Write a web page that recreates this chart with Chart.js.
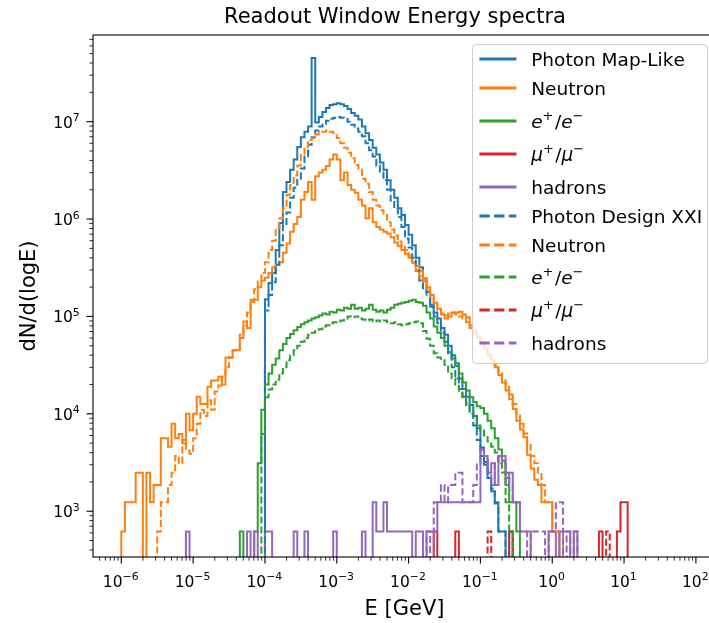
<!DOCTYPE html>
<html>
<head>
<meta charset="utf-8">
<script src="https://cdn.jsdelivr.net/npm/chart.js@4.4.1/dist/chart.umd.min.js"></script>
<style>
  html, body { margin: 0; padding: 0; background: #fff; overflow: hidden; }
  #wrapper { width: 725px; height: 623px; }
</style>
</head>
<body>
<div id="wrapper"><canvas id="myChart" width="725" height="623"></canvas></div>
<script>
// histogram binning: 20 log bins per decade starting at 1e-6 GeV
const binStartExp = -6;
const binsPerDecade = 20;

// axis ranges (log10) and tick decades
const xRangeExp = [-6.394, 2.28];
const yRangeExp = [2.53, 7.89];
const xTickExps = [-6, -5, -4, -3, -2, -1, 0, 1, 2];
const yTickExps = [3, 4, 5, 6, 7];
const minorMultiples = [2, 3, 4, 5, 6, 7, 8, 9];

const titleText = "Readout Window Energy spectra";
const xLabelText = "E [GeV]";
const yLabelText = "dN/d(logE)";

// ---- Map-Like sample ----
const photonMapStart = 40;
const photonMap = [
  1.5e5, 2.2e5, 2.8e5, 4.8e5, 9.1e5,
  1.9e6, 2.4e6, 3.2e6, 4.1e6, 5.5e6,
  6.9e6, 7.9e6, 8.9e6, 4.5e7, 9.8e6,
  1.12e7, 1.26e7, 1.38e7, 1.48e7, 1.51e7,
  1.55e7, 1.51e7, 1.45e7, 1.35e7, 1.23e7,
  1.15e7, 1.05e7, 8.9e6, 7.6e6, 6.5e6,
  5.4e6, 4.6e6, 3.8e6, 3.2e6, 2.5e6,
  2.0e6, 1.66e6, 1.29e6, 1.1e6, 8.7e5,
  6.9e5, 5.4e5, 4.0e5, 3.2e5, 2.45e5,
  1.78e5, 1.32e5, 1.1e5, 9.5e4, 7.6e4,
  6.5e4, 5.0e4, 4.0e4, 3.3e4, 2.3e4,
  1.8e4, 1.5e4, 1.23e4, 9.5e3, 7.1e3,
  4.5e3, 3.2e3, 2.2e3, 1.6e3, 1240,
  620, 620, 0, 620
];

const neutronMapStart = 0;
const neutronMap = [
  620, 1240, 1240, 1240, 2480,
  2480, 0, 2480, 1240, 1860,
  1860, 5600, 5600, 4600, 7900,
  5600, 6200, 5000, 1.0e4, 6800,
  1.0e4, 1.5e4, 1.26e4, 1.26e4, 1.9e4,
  2.2e4, 2.2e4, 2.4e4, 2.0e4, 3.8e4,
  3.8e4, 4.5e4, 4.5e4, 6.0e4, 8.9e4,
  7.6e4, 1.48e5, 1.48e5, 2.0e5, 2.34e5,
  2.5e5, 2.8e5, 3.2e5, 3.4e5, 3.6e5,
  4.5e5, 5.6e5, 7.4e5, 8.9e5, 1.05e6,
  1.58e6, 1.9e6, 2.4e6, 1.58e6, 2.75e6,
  3.0e6, 3.2e6, 3.5e6, 4.1e6, 4.6e6,
  4.1e6, 2.5e6, 3.0e6, 2.24e6, 2.0e6,
  1.86e6, 1.58e6, 1.38e6, 1.02e6, 1.29e6,
  9.3e5, 8.3e5, 7.8e5, 7.4e5, 7.1e5,
  6.5e5, 5.75e5, 5.25e5, 4.8e5, 4.4e5,
  4.0e5, 3.6e5, 3.3e5, 2.95e5, 2.45e5,
  2.0e5, 1.66e5, 1.38e5, 1.2e5, 1.05e5,
  9.5e4, 1.0e5, 1.1e5, 1.1e5, 1.12e5,
  1.05e5, 9.8e4, 8.1e4, 7.2e4, 6.2e4,
  5.5e4, 4.7e4, 4.0e4, 3.5e4, 3.0e4,
  2.5e4, 2.1e4, 1.74e4, 1.41e4, 1.12e4,
  8.5e3, 6.9e3, 5.75e3, 3.8e3, 2.75e3,
  2.1e3, 1860, 1240, 1240, 1240,
  620, 620
];

const electronMapStart = 33;
const electronMap = [
  620, 0, 0, 0, 620,
  3100, 1.1e4, 2.0e4, 2.6e4, 3.2e4,
  3.7e4, 4.5e4, 5.2e4, 6.0e4, 6.6e4,
  7.2e4, 7.8e4, 8.3e4, 8.7e4, 9.1e4,
  9.5e4, 9.8e4, 1.02e5, 1.07e5, 1.05e5,
  1.12e5, 1.1e5, 1.17e5, 1.15e5, 1.23e5,
  1.2e5, 1.32e5, 1.2e5, 1.23e5, 1.15e5,
  1.2e5, 1.32e5, 1.17e5, 1.12e5, 1.15e5,
  1.1e5, 1.17e5, 1.23e5, 1.32e5, 1.35e5,
  1.38e5, 1.41e5, 1.45e5, 1.48e5, 1.41e5,
  1.38e5, 1.29e5, 1.1e5, 9.5e4, 7.9e4,
  6.8e4, 6.0e4, 5.0e4, 4.3e4, 3.7e4,
  3.1e4, 2.6e4, 2.1e4, 1.74e4, 1.48e4,
  1.32e4, 1.2e4, 1.15e4, 1.0e4, 8.5e3,
  7.1e3, 5.6e3, 4.3e3, 3.3e3, 2.2e3,
  1240, 1240, 620
];

const muonMapStart = 87;
const muonMap = [
  620, 0, 0, 0, 0, 0, 620,
  0, 0, 0, 0, 0, 0, 0, 0, 0, 0, 0, 0, 0, 0,
  620,
  0, 0, 0, 0, 0, 0, 0, 0, 0, 0, 0, 0,
  0, 0, 0, 0, 0, 0, 0, 0, 0, 0, 0, 0,
  620, 0, 0, 0, 0, 620, 1240, 1240
];

const hadronMapStart = 18;
const hadronMap = [
  620,
  0, 0, 0, 0, 0, 0, 0, 0, 0, 0, 0, 0, 0, 0, 0, 0,
  620, 0, 620, 0, 0, 620, 620,
  0, 0, 0, 0, 0, 0, 620, 0, 0, 620,
  0, 0, 0, 0, 0, 0, 0, 620,
  0, 0, 0, 0, 0, 0, 0, 620,
  0, 0, 1240, 620, 620, 1240,
  620, 620, 620, 620, 620, 620,
  620, 0, 620, 620, 0, 620, 620, 620,
  1240, 1240, 1240, 1240, 1240, 1240,
  1240, 1240, 1240, 1240, 1240, 1240,
  4300, 3700, 2480, 3100, 1860,
  3700, 3700, 1860, 2480, 1240,
  1240, 620, 620, 620,
  0, 0, 0, 0, 0,
  620, 620, 0, 620, 620, 620, 0, 620
];

// ---- Design XXI sample ----
const photonXXIStart = 40;
const photonXXI = [
  1.15e5, 1.66e5, 2.24e5, 3.4e5, 5.4e5,
  8.7e5, 1.17e6, 1.66e6, 2.1e6, 2.6e6,
  3.3e6, 4.4e6, 5.8e6, 6.9e6, 8.1e6,
  8.9e6, 9.5e6, 1.02e7, 1.07e7, 1.1e7,
  1.12e7, 1.1e7, 1.07e7, 1.0e7, 9.3e6,
  8.5e6, 7.9e6, 7.1e6, 6.0e6, 5.1e6,
  4.4e6, 3.55e6, 3.0e6, 2.5e6, 2.0e6,
  1.55e6, 1.29e6, 1.05e6, 8.3e5, 6.3e5,
  5.1e5, 4.0e5, 2.95e5, 2.34e5, 1.95e5,
  1.62e5, 1.26e5, 1.0e5, 8.5e4, 6.8e4,
  5.5e4, 4.2e4, 3.0e4, 2.3e4, 1.8e4,
  1.5e4, 1.23e4, 1.0e4, 7.6e3, 5.4e3,
  3.7e3, 3.0e3, 2.2e3, 1.7e3, 1.2e3,
  620, 620
];

const neutronXXIStart = 10;
const neutronXXI = [
  620, 1240, 1240, 1860, 2480,
  3700, 3100, 5400, 4200, 3900,
  5600, 7900, 1.1e4, 9.5e3, 1.38e4,
  1.1e4, 1.7e4, 1.95e4, 2.4e4, 3.0e4,
  3.8e4, 4.5e4, 4.5e4, 6.5e4, 8.1e4,
  1.1e5, 1.41e5, 1.9e5, 2.3e5, 2.8e5,
  3.6e5, 4.8e5, 6.0e5, 8.1e5, 1.02e6,
  1.29e6, 1.78e6, 2.24e6, 2.8e6, 3.55e6,
  4.6e6, 5.5e6, 6.5e6, 6.8e6, 7.4e6,
  7.9e6, 7.9e6, 8.1e6, 7.9e6, 7.6e6,
  6.8e6, 6.0e6, 5.4e6, 4.8e6, 4.2e6,
  3.6e6, 3.2e6, 2.6e6, 2.3e6, 1.9e6,
  1.58e6, 1.38e6, 1.23e6, 1.1e6, 9.3e5,
  7.8e5, 6.8e5, 5.9e5, 5.4e5, 4.8e5,
  4.2e5, 3.55e5, 3.0e5, 2.6e5, 2.3e5,
  1.9e5, 1.58e5, 1.35e5, 1.17e5, 1.07e5,
  1.02e5, 1.07e5, 1.1e5, 1.05e5, 1.0e5,
  9.5e4, 8.7e4, 7.6e4, 6.8e4, 6.0e4,
  5.8e4, 5.0e4, 4.3e4, 3.7e4, 3.2e4,
  2.7e4, 2.3e4, 1.9e4, 1.58e4, 1.26e4,
  1.0e4, 7.9e3, 6.3e3, 4.8e3, 3700,
  3100, 2480, 1860, 1240, 1240,
  620, 620, 620
];

const electronXXIStart = 39;
const electronXXI = [
  6.2e3, 1.48e4, 1.78e4, 2.0e4, 2.24e4,
  2.6e4, 3.0e4, 3.55e4, 4.0e4, 4.5e4,
  5.0e4, 5.5e4, 6.0e4, 6.5e4, 6.8e4,
  7.1e4, 7.4e4, 7.9e4, 8.1e4, 8.5e4,
  8.7e4, 8.9e4, 9.1e4, 9.5e4, 1.0e5,
  9.8e4, 1.0e5, 9.5e4, 9.3e4, 9.1e4,
  9.3e4, 8.9e4, 9.1e4, 8.9e4, 9.1e4,
  8.7e4, 8.5e4, 8.7e4, 8.3e4, 8.1e4,
  8.3e4, 8.5e4, 8.7e4, 8.9e4, 8.5e4,
  7.1e4, 5.9e4, 5.0e4, 4.2e4, 3.8e4,
  3.55e4, 3.2e4, 2.6e4, 2.3e4, 2.0e4,
  1.66e4, 1.48e4, 1.29e4, 1.1e4, 9.3e3,
  7.6e3, 6.8e3, 6.0e3, 5.2e3, 4.6e3,
  4.0e3, 3.1e3, 2.5e3, 1240, 620
];

const muonXXIStart = 102;
const muonXXI = [
  620,
  0, 0, 0, 0, 0, 0, 0, 0, 0, 0, 0, 0, 0, 0, 0, 0,
  0, 0, 0, 0, 0, 0, 0, 0, 0, 0, 0, 0, 0, 0, 0, 0,
  620
];

const hadronXXIStart = 85;
const hadronXXI = [
  620, 0, 1240, 1240, 1860,
  1240, 1860, 1860, 2480, 2480,
  1240, 1240, 1240, 1860, 3100,
  4300, 3700, 2480, 1860, 3100,
  3700, 3100, 2480, 1860, 1240,
  1240, 620, 620, 0, 620,
  620, 620, 620, 0, 620,
  620, 1240, 1240, 0, 620,
  0, 620
];

const colors = {
  blue: "#1f77b4",
  orange: "#ff7f0e",
  green: "#2ca02c",
  red: "#d62728",
  purple: "#9467bd",
};

const FONT = "'DejaVu Sans'";
const FLOOR = 1; // empty bins fall below the y range

function binEdge(i) {
  return Math.pow(10, binStartExp + i / binsPerDecade);
}

// outline of a step histogram: left edges hold each bin's count
function stepPoints(start, counts) {
  const pts = [{ x: binEdge(start), y: FLOOR }];
  counts.forEach((c, k) => {
    pts.push({ x: binEdge(start + k), y: c > 0 ? c : FLOOR });
  });
  pts.push({ x: binEdge(start + counts.length), y: FLOOR });
  return pts;
}

const series = [
  { label: "Photon Map-Like", start: photonMapStart, counts: photonMap, color: colors.blue, dashed: false },
  { label: "Neutron", start: neutronMapStart, counts: neutronMap, color: colors.orange, dashed: false },
  { label: "$e^+/e^-$", start: electronMapStart, counts: electronMap, color: colors.green, dashed: false },
  { label: "$μ^+/μ^-$", start: muonMapStart, counts: muonMap, color: colors.red, dashed: false },
  { label: "hadrons", start: hadronMapStart, counts: hadronMap, color: colors.purple, dashed: false },
  { label: "Photon Design XXI", start: photonXXIStart, counts: photonXXI, color: colors.blue, dashed: true },
  { label: "Neutron", start: neutronXXIStart, counts: neutronXXI, color: colors.orange, dashed: true },
  { label: "$e^+/e^-$", start: electronXXIStart, counts: electronXXI, color: colors.green, dashed: true },
  { label: "$μ^+/μ^-$", start: muonXXIStart, counts: muonXXI, color: colors.red, dashed: true },
  { label: "hadrons", start: hadronXXIStart, counts: hadronXXI, color: colors.purple, dashed: true },
];

const datasets = series.map((s, i) => ({
  label: s.label,
  data: stepPoints(s.start, s.counts),
  borderColor: s.color,
  borderWidth: 2,
  borderDash: s.dashed ? [7, 3] : [],
  borderJoinStyle: "miter",
  borderCapStyle: "butt",
  stepped: true,
  pointRadius: 0,
  fill: false,
  order: series.length - i, // later series on top
}));

// log tick positions, majors at decades
function logTicks(exps, range) {
  const ticks = [];
  const lo = Math.pow(10, range[0]), hi = Math.pow(10, range[1]);
  for (let e = Math.floor(range[0]); e <= Math.ceil(range[1]); e++) {
    const base = Math.pow(10, e);
    if (base >= lo && base <= hi && exps.includes(e)) ticks.push({ v: base, major: true, exp: e });
    minorMultiples.forEach((m) => {
      const v = m * base;
      if (v >= lo && v <= hi) ticks.push({ v: v, major: false });
    });
  }
  return ticks;
}

// small mathtext-like renderer: $..$ gives italic letters, ^x / ^{..} superscripts
function richRuns(str) {
  const runs = [];
  let math = false;
  for (let i = 0; i < str.length; i++) {
    const ch = str[i];
    if (ch === "$") { math = !math; continue; }
    if (ch === "^") {
      let txt;
      if (str[i + 1] === "{") {
        const end = str.indexOf("}", i);
        txt = str.slice(i + 2, end);
        i = end;
      } else {
        txt = str[i + 1];
        i++;
      }
      runs.push({ text: txt.replace(/-/g, "\u2212"), sup: true, math: math });
    } else {
      runs.push({ text: math && ch === "-" ? "\u2212" : ch, sup: false, math: math });
    }
  }
  return runs;
}

function runFont(run, size) {
  const italic = run.math && /[A-Za-zα-ωμ]/.test(run.text);
  const s = run.sup ? size * 0.7 : size;
  return (italic ? "italic " : "") + s + "px " + FONT;
}

function drawRich(ctx, str, x, baseline, size, align) {
  const runs = richRuns(str);
  let total = 0;
  runs.forEach((r) => {
    ctx.font = runFont(r, size);
    r.w = ctx.measureText(r.text).width + (r.sup && r.math ? size * 0.08 : 0);
    total += r.w;
  });
  let cx = align === "center" ? x - total / 2 : align === "right" ? x - total : x;
  ctx.textAlign = "left";
  ctx.textBaseline = "alphabetic";
  runs.forEach((r) => {
    ctx.font = runFont(r, size);
    ctx.fillText(r.text, cx, r.sup ? baseline - size * 0.42 : baseline);
    cx += r.w;
  });
}

const tickSize = 15.5;
const legendSize = 18.5;
const titleSize = 21;
const labelSize = 21;

const axesDecor = {
  id: "axesDecor",
  afterDatasetsDraw(chart) {
    const ctx = chart.ctx;
    const area = chart.chartArea;
    const xs = chart.scales.x;
    const ys = chart.scales.y;
    ctx.save();
    ctx.strokeStyle = "#000";
    ctx.fillStyle = "#000";

    // x ticks
    logTicks(xTickExps, xRangeExp).forEach((t) => {
      const px = xs.getPixelForValue(t.v);
      ctx.lineWidth = t.major ? 1.1 : 0.8;
      ctx.beginPath();
      ctx.moveTo(px, area.bottom);
      ctx.lineTo(px, area.bottom + (t.major ? 6.5 : 3.7));
      ctx.stroke();
      if (t.major) {
        drawRich(ctx, "$10^{" + t.exp + "}$", px, area.bottom + 30, tickSize, "center");
      }
    });

    // y ticks
    logTicks(yTickExps, yRangeExp).forEach((t) => {
      const py = ys.getPixelForValue(t.v);
      ctx.lineWidth = t.major ? 1.1 : 0.8;
      ctx.beginPath();
      ctx.moveTo(area.left, py);
      ctx.lineTo(area.left - (t.major ? 6.5 : 3.7), py);
      ctx.stroke();
      if (t.major) {
        drawRich(ctx, "$10^{" + t.exp + "}$", area.left - 12, py + 6, tickSize, "right");
      }
    });

    // frame
    ctx.lineWidth = 1.1;
    ctx.strokeRect(area.left, area.top, area.right - area.left, area.bottom - area.top);

    // legend
    const lx = 472, ly = 44, lw = 235, lh = 319;
    const rowY = [15, 44, 77, 110, 143, 172, 201, 233, 266, 299];
    ctx.beginPath();
    ctx.roundRect(lx + 0.5, ly + 0.5, lw, lh, 4);
    ctx.fillStyle = "rgba(255,255,255,0.8)";
    ctx.fill();
    ctx.strokeStyle = "#cccccc";
    ctx.lineWidth = 1;
    ctx.stroke();
    chart.data.datasets.forEach((ds, i) => {
      const y = ly + rowY[i];
      ctx.strokeStyle = ds.borderColor;
      ctx.lineWidth = 2.77;
      ctx.setLineDash(ds.borderDash.length ? [10.3, 4.4] : []);
      ctx.beginPath();
      ctx.moveTo(lx + 7.4, y);
      ctx.lineTo(lx + 44.4, y);
      ctx.stroke();
      ctx.setLineDash([]);
      ctx.fillStyle = "#000";
      drawRich(ctx, ds.label, lx + 59.2, y + 6.5, legendSize, "left");
    });
    ctx.restore();
  },
  afterDraw(chart) {
    const ctx = chart.ctx;
    const area = chart.chartArea;
    const cx = (area.left + area.right) / 2;
    ctx.save();
    ctx.fillStyle = "#000";
    ctx.textAlign = "center";
    ctx.textBaseline = "alphabetic";
    ctx.font = titleSize + "px " + FONT;
    ctx.fillText(titleText, 395, area.top - 12);
    ctx.font = labelSize + "px " + FONT;
    ctx.fillText(xLabelText, cx, 615);
    ctx.translate(35, (area.top + area.bottom) / 2);
    ctx.rotate(-Math.PI / 2);
    ctx.fillText(yLabelText, 0, 0);
    ctx.restore();
  },
};

const ctx = document.getElementById("myChart").getContext("2d");
const myChart = new Chart(ctx, {
  type: "line",
  data: { datasets },
  options: {
    responsive: false,
    animation: false,
    events: [],
    layout: { padding: { left: 93, right: 9, top: 35, bottom: 66 } },
    plugins: { legend: { display: false }, tooltip: { enabled: false } },
    scales: {
      x: {
        type: "logarithmic",
        min: Math.pow(10, xRangeExp[0]),
        max: Math.pow(10, xRangeExp[1]),
        grid: { display: false },
        border: { display: false },
        ticks: { display: false },
        afterFit: (scale) => { scale.height = 0; },
      },
      y: {
        type: "logarithmic",
        min: Math.pow(10, yRangeExp[0]),
        max: Math.pow(10, yRangeExp[1]),
        grid: { display: false },
        border: { display: false },
        ticks: { display: false },
        afterFit: (scale) => { scale.width = 0; },
      },
    },
  },
  plugins: [axesDecor],
});
</script>
</body>
</html>
